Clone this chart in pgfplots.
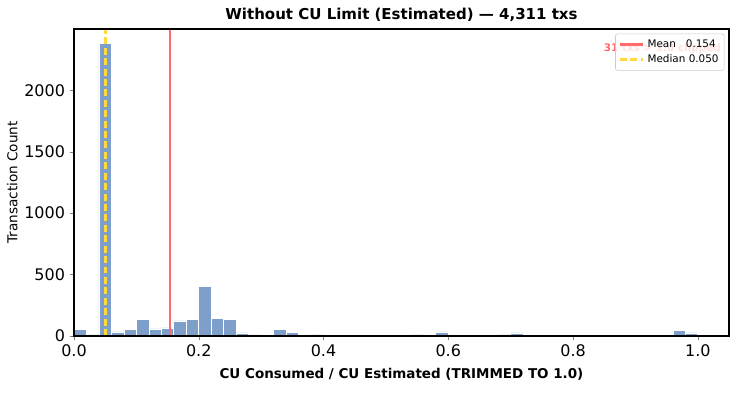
\documentclass[border=0pt]{standalone}
\usepackage{pgfplots}
\pgfplotsset{compat=1.18}
\usepackage{fontspec}
\setmainfont{DejaVu Sans}
\definecolor{barblue}{HTML}{7F9FCB}
\definecolor{meanred}{HTML}{FF6B6B}
\definecolor{medgold}{HTML}{FFD93D}
\begin{document}
\begin{tikzpicture}
\begin{axis}[
  name=ax,
  scale only axis,
  axis on top,
  width=471.6pt, height=221pt,
  xmin=0, xmax=1.05, ymin=0, ymax=2499,
  xtick={0,0.2,0.4,0.6,0.8,1.0},
  xticklabels={0.0,0.2,0.4,0.6,0.8,1.0},
  ytick={0,500,1000,1500,2000},
  yticklabels={0,500,1000,1500,2000},
  /pgf/number format/assume math mode=true,
  scaled y ticks=false,
  tick label style={font=\fontsize{11.5}{13}\selectfont},
  tick align=outside,
  major tick length=3pt,
  xtick pos=bottom, ytick pos=left,
  axis line style={line width=0.8pt},
  title={\bfseries Without CU Limit (Estimated) — 4,311 txs},
  title style={font=\fontsize{10.8}{12}\selectfont, yshift=-4pt},
  xlabel={\bfseries CU Consumed / CU Estimated (TRIMMED TO 1.0)},
  xlabel style={font=\fontsize{9.7}{11}\selectfont, yshift=-1pt},
  ylabel={Transaction Count},
  ylabel style={font=\fontsize{9.8}{11}\selectfont, yshift=-2pt},
  legend style={at={(0.993,0.985)}, anchor=north east, font=\fontsize{7.5}{9}\selectfont,
     draw=black!20, rounded corners=1.5pt, fill=white, fill opacity=0.8, text opacity=1,
     row sep=0pt, inner sep=2pt},
  legend cell align=left,
]
\addplot[ybar, bar width=0.02, bar shift=0pt, fill=barblue, draw=white, line width=0.5pt, forget plot] coordinates {
(0.01,50) (0.03,8) (0.05,2380) (0.07,33) (0.09,52) (0.11,133) (0.13,57) (0.15,65)
(0.17,122) (0.19,133) (0.21,400) (0.23,140) (0.25,133) (0.27,25) (0.29,8)
(0.33,52) (0.35,27) (0.39,8) (0.41,12) (0.43,12)
(0.55,8) (0.59,33) (0.61,2)
(0.69,8) (0.71,25) (0.79,2)
(0.97,45) (0.99,25)
};
\node[anchor=east, text=meanred, font=\bfseries\fontsize{7.5}{9}\selectfont] at (rel axis cs:0.995,0.935) {31 txs > 1.0 clipped};
\addplot[meanred, line width=2pt] coordinates {(0.154,0) (0.154,2600)};
\addlegendentry{Mean \ \ 0.154}
\addplot[medgold, line width=2pt, dash pattern=on 5pt off 2.5pt] coordinates {(0.050,0) (0.050,2600)};
\addlegendentry{Median 0.050}
\end{axis}
\pgfresetboundingbox
\useasboundingbox ([xshift=-53.28pt,yshift=-41.76pt]ax.south west) rectangle ([xshift=12.24pt,yshift=20.88pt]ax.north east);
\end{tikzpicture}
\end{document}
